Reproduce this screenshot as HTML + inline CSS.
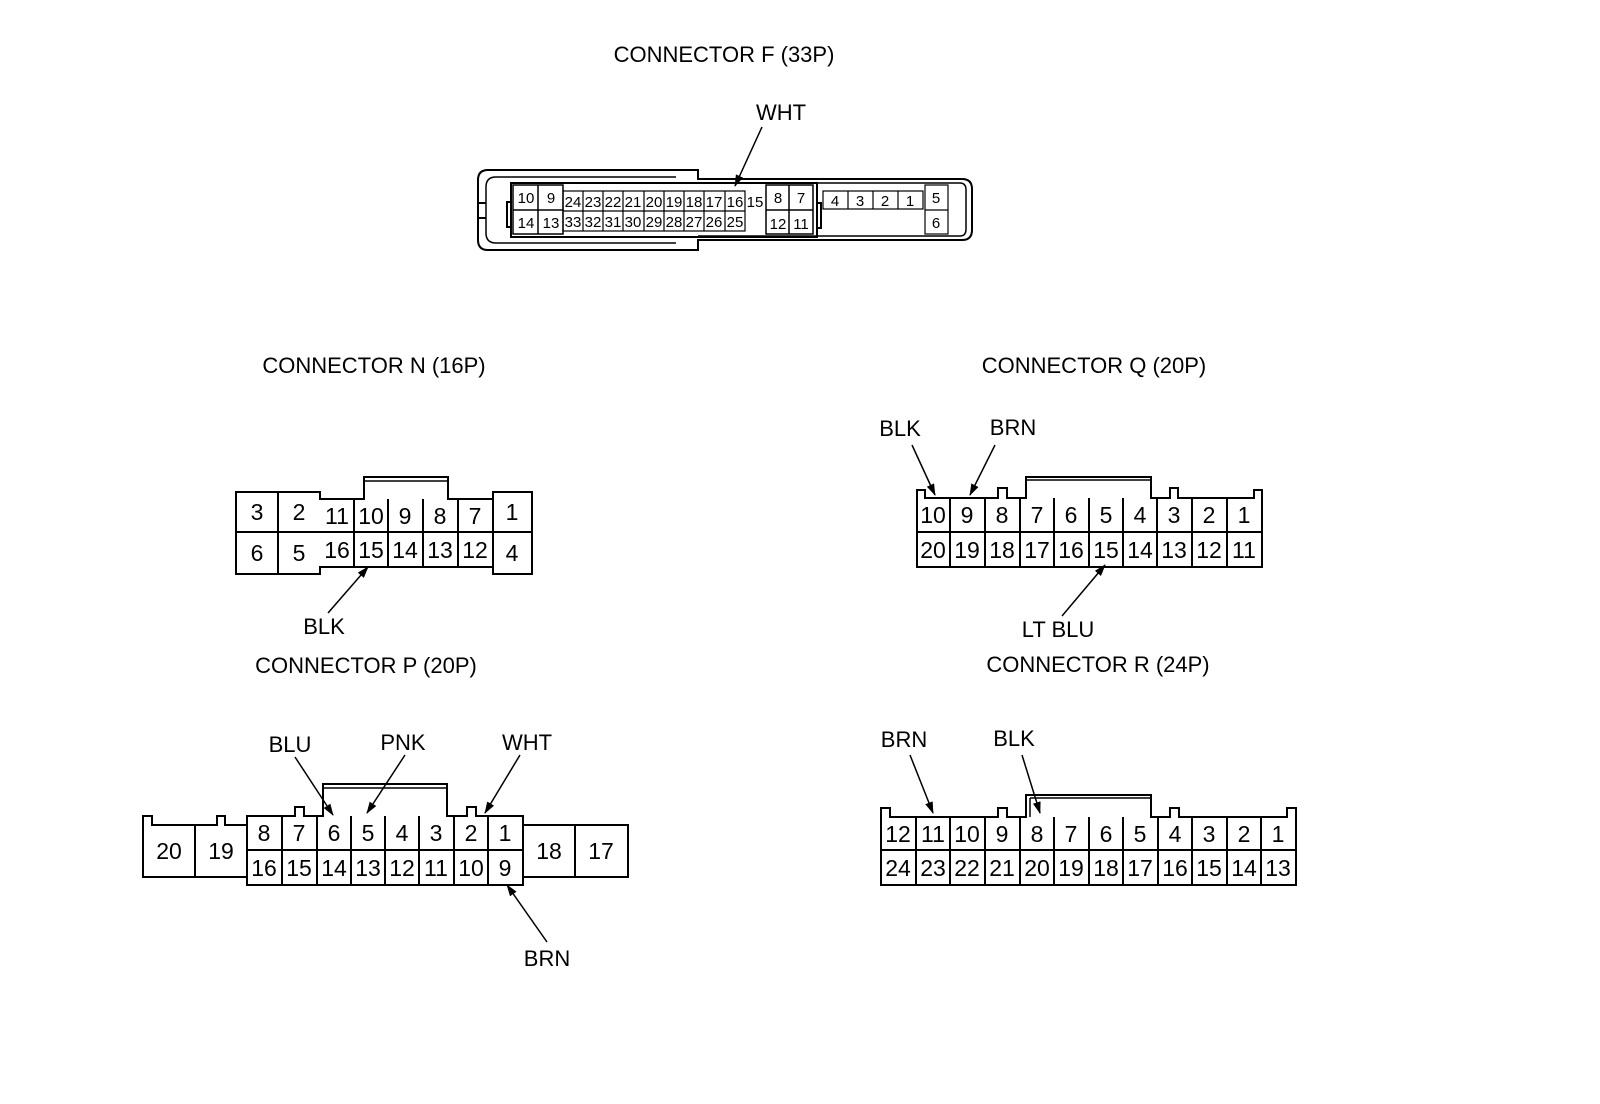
<!DOCTYPE html>
<html><head><meta charset="utf-8"><style>
html,body{margin:0;padding:0;background:#fff;}
svg{display:block;}
text{font-family:"Liberation Sans",Arial,sans-serif;fill:#000;}
.t{font-size:22px;}
.p{font-size:23px;text-anchor:middle;}
.f{font-size:15px;text-anchor:middle;}
.c{text-anchor:middle;}
</style></head><body>
<svg width="1600" height="1104" viewBox="0 0 1600 1104" xmlns="http://www.w3.org/2000/svg">
<defs><marker id="ar" markerWidth="12" markerHeight="8" refX="11" refY="4" orient="auto" markerUnits="userSpaceOnUse"><path d="M0,0 L12,4 L0,8 z" fill="#000"/></marker></defs>
<g fill="none" stroke="#000" stroke-width="2">
<!-- Connector F -->
<path d="M698,170 L488,170 Q478,170 478,180 L478,240 Q478,250 488,250 L698,250 L698,240 L962,240 Q972,240 972,230 L972,189 Q972,179 962,179 L698,179 Z"/>
<path d="M676,177 L496,177 Q486,177 486,187 L486,233 Q486,243 496,243 L676,243" stroke-width="1.5"/>
<path d="M698,183 L960,183 Q966,183 966,190 L966,229 Q966,236 960,236 L698,236" stroke-width="1.5"/>
<path d="M478,203 L486,203 M478,218 L486,218"/>
<rect x="511" y="183" width="306" height="54"/>
<rect x="507" y="202" width="4" height="25"/>
<rect x="817" y="203" width="4" height="25"/>
<rect x="513" y="185" width="50" height="49" stroke-width="1.5"/>
<path d="M538,185 V234 M513,210 H563" stroke-width="1.5"/>
<rect x="766" y="185" width="47" height="49" stroke-width="1.5"/>
<path d="M789,185 V234 M766,210 H813" stroke-width="1.5"/>
<rect x="563" y="191" width="182" height="40" stroke-width="1.2"/>
<path d="M563,211 H745 M583,191 V231 M603,191 V231 M623,191 V231 M644,191 V231 M664,191 V231 M684,191 V231 M704,191 V231 M725,191 V231" stroke-width="1.2"/>
<rect x="823" y="191" width="100" height="18" stroke-width="1.2"/>
<path d="M848,191 V209 M873,191 V209 M898,191 V209" stroke-width="1.2"/>
<rect x="925" y="185" width="23" height="49" stroke-width="1.2"/>
<path d="M925,210 H948" stroke-width="1.2"/>
<!-- Connector N -->
<path d="M236,492 H320 V499 H364 V477 H448 V499 H493 V492 H532 V574 H493 V567 H320 V574 H236 Z"/>
<path d="M364,481 H448" stroke-width="1.5"/>
<path d="M278,492 V574 M236,532 H320 M493,532 H532 M320,532 H493 M354,499 V567 M388,499 V567 M423,499 V567 M458,499 V567 M493,499 V567"/>
<!-- Connector Q -->
<path d="M917,567 V490 H925 V498 H998 V488 H1007 V498 H1026 V477 H1151 V498 H1170 V488 H1178 V498 H1254 V490 H1262 V567 Z"/>
<path d="M1026,480 H1151" stroke-width="1.5"/>
<path d="M917,532 H1262 M950,498 V567 M985,498 V567 M1020,498 V567 M1054,498 V567 M1089,498 V567 M1123,498 V567 M1157,498 V567 M1192,498 V567 M1227,498 V567"/>
<!-- Connector P -->
<path d="M143,877 V816 H152 V825 H217 V816 H225 V825 H247 V816 H295 V807 H304 V816 H323 V784 H447 V816 H467 V807 H476 V816 H523 V825 H628 V877 H523 V885 H247 V877 Z"/>
<path d="M323,788 H447" stroke-width="1.5"/>
<path d="M195,825 V877 M247,825 V877 M575,825 V877 M523,816 V885 M247,850 H523 M282,816 V885 M317,816 V885 M351,816 V885 M385,816 V885 M419,816 V885 M454,816 V885 M488,816 V885"/>
<!-- Connector R -->
<path d="M881,885 V808 H890 V817 H998 V808 H1007 V817 H1026 V795 H1151 V817 H1170 V808 H1179 V817 H1287 V808 H1296 V885 Z"/>
<path d="M1030,798 H1151 M1030,798 V817" stroke-width="1.5"/>
<path d="M881,850 H1296 M916,817 V885 M950,817 V885 M985,817 V885 M1020,817 V885 M1054,817 V885 M1089,817 V885 M1123,817 V885 M1158,817 V885 M1192,817 V885 M1227,817 V885 M1261,817 V885"/>
</g>
<!-- arrows -->
<g stroke="#000" stroke-width="1.5" marker-end="url(#ar)">
<line x1="762" y1="127" x2="735" y2="186"/>
<line x1="328" y1="613" x2="368" y2="567"/>
<line x1="912" y1="445" x2="935" y2="495"/>
<line x1="995" y1="445" x2="970" y2="495"/>
<line x1="1062" y1="616" x2="1105" y2="565"/>
<line x1="295" y1="757" x2="333" y2="815"/>
<line x1="405" y1="755" x2="367" y2="813"/>
<line x1="520" y1="755" x2="485" y2="813"/>
<line x1="547" y1="942" x2="507" y2="885"/>
<line x1="910" y1="755" x2="933" y2="813"/>
<line x1="1022" y1="755" x2="1040" y2="813"/>
</g>
<!-- titles & labels -->
<text class="t c" x="724" y="62">CONNECTOR F (33P)</text>
<text class="t c" x="781" y="120">WHT</text>
<text class="t c" x="374" y="373">CONNECTOR N (16P)</text>
<text class="t c" x="324" y="634">BLK</text>
<text class="t c" x="1094" y="373">CONNECTOR Q (20P)</text>
<text class="t c" x="900" y="436">BLK</text>
<text class="t c" x="1013" y="435">BRN</text>
<text class="t c" x="1058" y="637">LT BLU</text>
<text class="t c" x="366" y="673">CONNECTOR P (20P)</text>
<text class="t c" x="290" y="752">BLU</text>
<text class="t c" x="403" y="750">PNK</text>
<text class="t c" x="527" y="750">WHT</text>
<text class="t c" x="547" y="966">BRN</text>
<text class="t c" x="1098" y="672">CONNECTOR R (24P)</text>
<text class="t c" x="904" y="747">BRN</text>
<text class="t c" x="1014" y="746">BLK</text>
<!-- F pins -->
<g class="f">
<text x="526" y="203">10</text><text x="551" y="203">9</text>
<text x="526" y="228">14</text><text x="551" y="228">13</text>
<text x="573" y="207">24</text><text x="593" y="207">23</text><text x="613" y="207">22</text><text x="633" y="207">21</text><text x="654" y="207">20</text><text x="674" y="207">19</text><text x="694" y="207">18</text><text x="714" y="207">17</text><text x="735" y="207">16</text><text x="755" y="207">15</text>
<text x="573" y="227">33</text><text x="593" y="227">32</text><text x="613" y="227">31</text><text x="633" y="227">30</text><text x="654" y="227">29</text><text x="674" y="227">28</text><text x="694" y="227">27</text><text x="714" y="227">26</text><text x="735" y="227">25</text>
<text x="778" y="203">8</text><text x="801" y="203">7</text>
<text x="778" y="229">12</text><text x="801" y="229">11</text>
<text x="835" y="206">4</text><text x="860" y="206">3</text><text x="885" y="206">2</text><text x="910" y="206">1</text>
<text x="936" y="203">5</text><text x="936" y="228">6</text>
</g>
<!-- N pins -->
<g class="p">
<text x="257" y="520">3</text><text x="299" y="520">2</text>
<text x="257" y="561">6</text><text x="299" y="561">5</text>
<text x="337" y="524">11</text><text x="371" y="524">10</text><text x="405" y="524">9</text><text x="440" y="524">8</text><text x="475" y="524">7</text>
<text x="337" y="558">16</text><text x="371" y="558">15</text><text x="405" y="558">14</text><text x="440" y="558">13</text><text x="475" y="558">12</text>
<text x="512" y="520">1</text><text x="512" y="561">4</text>
</g>
<!-- Q pins -->
<g class="p">
<text x="933" y="523">10</text><text x="967" y="523">9</text><text x="1002" y="523">8</text><text x="1037" y="523">7</text><text x="1071" y="523">6</text><text x="1106" y="523">5</text><text x="1140" y="523">4</text><text x="1174" y="523">3</text><text x="1209" y="523">2</text><text x="1244" y="523">1</text>
<text x="933" y="558">20</text><text x="967" y="558">19</text><text x="1002" y="558">18</text><text x="1037" y="558">17</text><text x="1071" y="558">16</text><text x="1106" y="558">15</text><text x="1140" y="558">14</text><text x="1174" y="558">13</text><text x="1209" y="558">12</text><text x="1244" y="558">11</text>
</g>
<!-- P pins -->
<g class="p">
<text x="169" y="859">20</text><text x="221" y="859">19</text><text x="549" y="859">18</text><text x="601" y="859">17</text>
<text x="264" y="841">8</text><text x="299" y="841">7</text><text x="334" y="841">6</text><text x="368" y="841">5</text><text x="402" y="841">4</text><text x="436" y="841">3</text><text x="471" y="841">2</text><text x="505" y="841">1</text>
<text x="264" y="876">16</text><text x="299" y="876">15</text><text x="334" y="876">14</text><text x="368" y="876">13</text><text x="402" y="876">12</text><text x="436" y="876">11</text><text x="471" y="876">10</text><text x="505" y="876">9</text>
</g>
<!-- R pins -->
<g class="p">
<text x="898" y="842">12</text><text x="933" y="842">11</text><text x="967" y="842">10</text><text x="1002" y="842">9</text><text x="1037" y="842">8</text><text x="1071" y="842">7</text><text x="1106" y="842">6</text><text x="1140" y="842">5</text><text x="1175" y="842">4</text><text x="1209" y="842">3</text><text x="1244" y="842">2</text><text x="1278" y="842">1</text>
<text x="898" y="876">24</text><text x="933" y="876">23</text><text x="967" y="876">22</text><text x="1002" y="876">21</text><text x="1037" y="876">20</text><text x="1071" y="876">19</text><text x="1106" y="876">18</text><text x="1140" y="876">17</text><text x="1175" y="876">16</text><text x="1209" y="876">15</text><text x="1244" y="876">14</text><text x="1278" y="876">13</text>
</g>
</svg>
</body></html>
